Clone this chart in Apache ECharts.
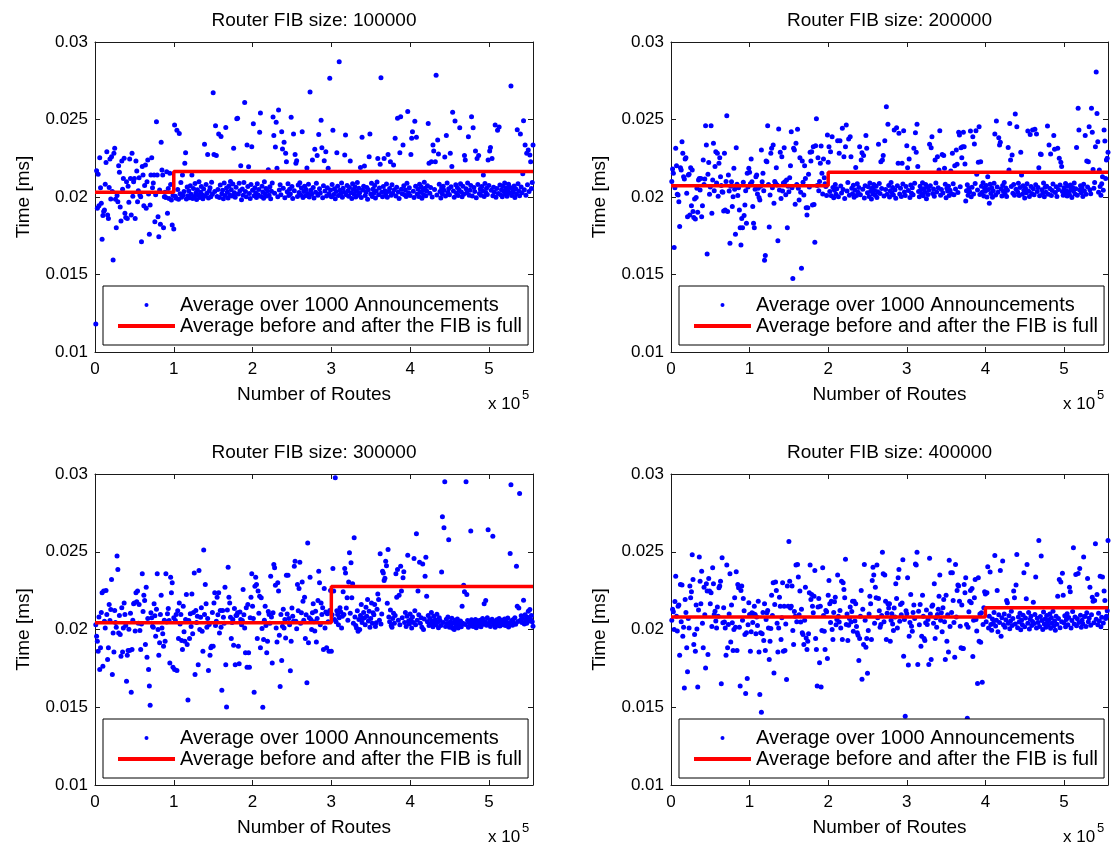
<!DOCTYPE html>
<html><head><meta charset="utf-8">
<script src="https://cdn.jsdelivr.net/npm/echarts@6/dist/echarts.min.js"></script>
<style>html,body{margin:0;padding:0;background:#fff}#chart{width:1113px;height:847px}</style>
</head><body><div id="chart"></div>
<script>
// ---- data ----
const panelTitles = ['Router FIB size: 100000','Router FIB size: 200000','Router FIB size: 300000','Router FIB size: 400000'];
const fibSizes = [100000, 200000, 300000, 400000];
const avgBefore = [0.0203, 0.02073, 0.02043, 0.0208];
const avgAfter = [0.02165, 0.02159, 0.02277, 0.0214];
const routesPerPoint = 1000;
const maxRoutes = 556000;
const yTickValues = [0.01, 0.015, 0.02, 0.025, 0.03];
const seriesNames = ['Average over 1000 Announcements', 'Average before and after the FIB is full'];
// times in units of 1e-5 ms, one value per 1000 routes
const timeP1 = [
1180,2170,1927,2146,1944,2254,2060,1959,1727,1880,1906,1916,2082,2222,2292,1884,1862,2062,2245,1987,
2260,2035,1594,2282,2314,1985,1802,2010,1970,2202,2159,1936,1845,2232,2050,2120,2250,1895,1867,2099,
1862,2070,1966,2245,2120,1884,2282,2005,2099,2120,1862,2232,2168,1970,2040,2125,2013,2002,1712,2196,
2142,1944,2075,2206,1927,2099,2239,2020,1759,1948,2142,2254,2060,2090,2142,1841,2015,2486,2142,1873,
1744,2045,1824,2353,2174,2142,1802,2002,2030,1996,2163,1895,2055,1991,2153,2080,1980,1820,2010,1794,
2465,2005,1992,2430,2048,1985,2409,2021,2093,1998,2142,2012,2035,2217,2286,1987,2064,2008,2041,1995,
2072,2018,2142,1990,2055,2003,2087,2026,1984,2046,2011,2099,1996,2030,2068,2014,1988,2052,2340,2007,
2081,2025,2275,1993,2039,2060,2002,2095,2017,2673,2275,2036,2460,2267,2004,2049,2406,1997,2078,2391,
2021,2043,1989,2090,2010,2449,2058,2032,1994,2071,2015,2100,2047,2006,2084,2314,2027,1999,2063,2505,
2508,2019,2088,2040,2202,1983,2052,2011,2093,2609,2035,2001,2335,2067,2195,2022,1990,2080,2325,2044,
2473,2008,2059,2027,1996,2085,2014,2048,2417,2542,2003,2070,2033,1992,2098,2019,2055,2006,2040,2176,
2012,2066,1988,2037,2090,2516,2396,2024,2323,2482,2185,2001,2561,2045,2079,2015,2421,2310,2056,2353,
1995,2282,2228,2034,2086,2010,2050,2020,2514,2068,1990,2406,2041,2275,2217,2234,2003,2077,2029,2092,
2013,2058,2421,1997,2036,2070,2008,2048,2187,2022,2083,2000,2677,2044,2017,2239,2062,1993,2308,2031,
2089,2267,2012,2404,2054,2026,2495,2318,1995,2072,2234,2039,2292,2007,2060,2186,2021,2766,2045,2002,
2081,2430,2016,2053,1988,2035,2286,2069,2010,2873,2043,2024,2091,1999,2057,2030,2271,2400,2014,2075,
2040,2005,2062,2232,2027,1991,2085,2049,2018,2066,2000,2037,2094,2012,2056,2028,2190,1996,2385,2045,
2070,2200,2009,2033,2061,1985,2047,2260,2406,2019,2088,2004,2052,2026,2074,1993,2038,2097,2249,2015,
2058,2211,2770,2030,2002,2068,2249,2041,2017,2084,1998,2275,2036,2055,2228,2011,2079,2024,2206,2047,
2379,2006,2063,2508,2032,1990,2286,2518,2050,2021,2336,2073,2014,2045,2003,2089,2551,2028,2060,2009,
2275,2379,2421,2037,1996,2488,2070,2385,2019,2052,2004,2083,2031,2066,1992,2042,2015,2095,2057,2008,
2039,2073,2475,2217,2024,2061,2228,2000,2336,2297,2048,2228,2785,2013,2368,2277,2082,2035,1994,2058,
2020,2070,2044,2258,2007,2396,2091,2029,2053,2015,2282,2066,2196,2546,2038,1998,2490,2079,2025,2062,
2010,2047,2447,2086,2033,2002,2069,2018,2267,2239,2054,2027,2090,2389,2012,2043,2075,2518,2006,2447,
2061,2035,2297,1995,2249,2080,2267,2023,2052,2011,2068,2040,2142,2003,2087,2029,2057,2016,2239,2074,
2297,2320,2044,2249,2008,2063,2031,2465,1999,2055,2430,2022,2452,2078,2014,2046,2002,2069,2037,2090,
2019,2058,2005,2041,2083,2026,2062,2716,2010,2048,2033,2071,1997,2054,2020,2434,2085,2039,2008,2406,
2065,2028,2150,2492,2047,2336,2012,2282,2079,2303,2036,2271,2228,2055,2094,2336
];
const timeP2 = [
2100,2181,2153,1675,2060,2314,2202,2017,2013,1970,1809,2189,2174,2357,2282,2131,2116,2245,2254,2024,
1873,2142,2146,1884,2189,1944,2174,1906,1867,1987,1858,1996,2056,1901,2110,2120,2045,2120,1873,1944,
2239,2080,2116,2460,2336,1633,2146,2222,2017,2065,2460,1895,2110,2346,2040,2196,2292,2090,2282,2005,
2217,2254,2131,2075,2034,2030,1910,2282,1916,2100,2525,1906,2142,2039,1701,2070,2099,1938,2002,2185,
2050,1759,2318,2082,2010,2060,1916,1802,1690,1862,1802,2095,1880,1948,2040,1830,2153,2065,2185,2159,
2085,2245,2099,1938,1830,1802,2050,2131,2142,2020,2056,1996,1981,2070,2303,2099,2153,2040,1592,1622,
2232,2228,2460,2080,1806,2013,2282,2314,2060,2336,1959,2100,2088,2189,2078,1718,2439,2045,2288,1991,
2260,2039,2090,2318,2099,2015,2110,1802,2070,2034,2125,2202,2421,2060,1475,2314,2303,1953,2346,2080,
2437,2056,1981,2254,2030,1540,2232,2095,2013,2202,2120,1931,1884,1931,2146,2065,2288,2232,2292,1948,
2325,1951,1708,2331,2505,2075,2254,2040,2100,2217,2329,2153,2020,2245,2125,2085,2067,2010,2400,2224,
2325,2035,2292,2008,2389,2061,1995,2044,2080,2017,2053,2363,2002,2282,2363,2071,2026,2443,2048,2260,
1990,2325,2465,2039,2093,2374,2012,2389,2260,2057,2021,2076,1998,2045,2191,2009,2085,2031,2062,2325,
2015,2239,2286,2050,2267,1993,2073,2396,2314,2028,2066,2004,2090,2037,1987,2058,2019,2081,2042,2011,
2069,1996,2034,2340,2087,2023,2228,2055,2239,2267,2006,2363,2049,2583,2018,2469,2075,2000,2040,2094,
2027,2061,2013,2432,2046,1992,2447,2072,2217,2411,2020,2056,2003,2217,2084,2428,2032,2010,2067,2331,
2189,2042,2245,1997,2078,2025,2059,2014,2314,2088,2415,2288,2469,2196,2036,2001,2070,2047,2019,2092,
2008,2054,2030,2080,1989,2064,2016,2045,2340,2073,2318,2389,2022,2052,2005,2239,2091,2033,2260,2060,
2174,2428,2012,2048,2275,2026,2267,2185,2083,1995,2057,2038,2070,2009,2044,2168,2021,2282,2086,2015,
2202,2051,2303,2211,2029,2417,2400,2066,2318,2254,2325,2417,2325,2213,1974,2040,2079,2011,2058,2034,
2426,2002,2063,2389,2020,2342,2087,2428,2146,2045,2224,2454,2016,2228,2069,2031,2092,2007,2055,2037,
2074,2000,2131,2049,1959,2082,2023,2060,1998,2041,2089,2406,2013,2490,2064,2030,2383,2336,2353,2052,
2006,2075,2035,2094,2019,2058,2003,2043,2320,2174,2475,2239,2067,2271,2025,2081,2011,2535,2050,2454,
2032,2088,2009,2061,2288,2142,2017,2072,2044,1994,2056,2027,2085,2426,2039,2004,2404,2068,2022,2432,
2053,2014,2437,2079,2406,2036,2061,2189,2008,2277,2275,2046,2025,2090,2001,2063,2031,2070,2458,2018,
2336,2055,2277,2010,2042,2084,2396,2308,2029,2066,2003,2314,2048,2250,2077,2224,2196,2035,2012,2059,
2024,2087,2041,2006,2069,2033,2015,2078,2050,1997,2062,2038,2091,2020,2054,2320,2011,2572,2432,2045,
2073,2028,2060,2004,2083,2039,2396,2017,2232,2065,2228,2454,2047,2021,2572,2417,2178,2056,2093,2325,
2806,2538,2357,2030,2174,2068,2012,2085,2130,2044,2432,2361,2120,2239,2250,2288
];
const timeP3 = [
2030,1957,1925,1860,2080,1743,1882,2110,2236,1764,2247,2053,2010,2251,2096,1807,1882,2161,2058,2128,
2321,1710,1978,1856,2122,2045,2015,2472,2386,1978,2090,1968,1828,2140,1856,2010,2171,2096,2025,1667,
1835,1865,2002,1865,2105,1597,1871,2060,2165,2171,1990,2236,2178,2247,2040,2161,1993,1871,2036,2358,
2115,2221,2187,1903,2272,1822,2070,1743,1637,1513,2107,2075,2021,2015,2165,2088,1957,2130,2358,2000,
1835,1914,2096,2221,2010,1972,1893,2060,1925,2358,2049,2101,2135,2058,1785,2336,2236,2300,1757,2075,
1743,2058,2096,1736,2120,1942,2171,2035,2096,1929,1871,2150,1985,1925,2065,2225,1903,1547,2058,1942,
2101,2020,2229,1972,2110,2364,1710,2122,2045,2086,1774,2379,2000,2079,2140,1989,1860,2512,2096,2289,
2165,2015,2070,1736,2032,1835,1882,1893,2110,1893,2171,2236,2025,2053,2208,2095,2236,1978,2122,2015,
1609,2122,2079,2040,2272,1774,1502,2125,2401,2208,2171,2079,1942,2045,2064,1899,2135,1774,2090,2092,
2107,1893,1779,2113,2064,2030,2058,2257,2095,2010,1850,2140,1757,2161,1850,1757,2075,2208,2358,2150,
2070,1597,2278,2336,2289,1942,2247,2105,2214,1882,2204,2006,1500,1936,2060,2150,2025,1850,1925,2115,
2096,2040,2343,2080,1785,2107,2418,2397,2285,2010,1920,2300,2247,1963,1633,2096,1800,2021,2130,2010,
2065,1946,2349,2100,2349,2071,2030,1734,1925,2139,2085,2053,2407,2439,2053,2005,2289,2120,2264,2433,
2040,2107,2306,2182,2060,2208,1942,2095,1657,2557,1914,2075,2336,2064,2000,2107,2165,2050,1990,2118,
1920,2070,2186,2375,2300,2030,2171,2096,2140,1871,2264,2010,2113,1882,2101,2050,1860,2122,2251,1860,
2095,2392,2247,2064,2976,2050,2120,2096,2030,2075,2140,2113,2010,2085,2242,2096,2392,2364,2139,2204,
2060,2306,2493,2105,2429,2204,2294,2040,2590,2080,2025,2010,2120,1989,2065,2000,2090,2161,2045,2071,
2110,2075,2030,2143,2085,2193,2055,2118,2015,2070,2171,2040,2107,2095,2161,2020,2043,2130,2229,2193,
2060,2487,2035,2100,2375,2364,2315,2330,2439,2410,2169,2514,2080,2050,2125,2025,2015,2070,2105,2040,
2090,2358,2208,2386,2060,2221,2030,2407,2247,2075,2332,2371,2045,2110,2020,2085,2478,2055,2035,2100,
2065,2010,2080,2045,2457,2120,2030,2615,2060,2247,2095,2433,2040,2075,2015,2422,2000,2068,2343,2465,
2214,2050,2090,2025,2070,2035,2110,2055,2018,2085,2040,2062,2030,2098,2047,2012,2075,2058,2026,2369,
2725,2045,2654,2950,2020,2066,2038,2080,2577,2015,2050,2030,2072,2008,2044,2000,2060,2022,2035,2068,
2010,2048,2026,2055,2018,2150,2040,2285,2242,2032,2950,2225,2058,2015,2045,2025,2633,2062,2036,2020,
2050,2030,2065,2012,2042,2056,2024,2038,2060,2018,2047,2070,2033,2165,2052,2186,2028,2075,2641,2040,
2058,2020,2046,2066,2600,2035,2052,2015,2040,2062,2027,2048,2070,2022,2055,2036,2060,2030,2045,2067,
2025,2050,2038,2074,2016,2043,2489,2931,2058,2028,2064,2040,2075,2033,2407,2150,2052,2139,2875,2060,
2088,2045,2070,2188,2035,2095,2060,2040,2078,2118,2055,2128,2065,2090,2050,2021
];
const timeP4 = [
2060,2130,2114,2000,2180,2343,2086,1990,2150,2157,1835,2290,2050,2286,1957,2015,1623,2193,2110,1882,
1728,2070,2010,2279,2204,2242,2481,2322,1903,1968,1860,2157,2004,1631,2125,2466,2311,2165,2375,2040,
1882,2272,2095,1753,2294,2247,1839,2328,2247,2165,2236,2020,2397,2294,2096,2118,2055,2010,2144,2085,
2268,2279,2311,1651,2461,2043,2140,2049,2010,1835,2414,1882,2032,2100,2358,1920,2157,2043,1865,2000,
2204,2015,2371,1865,2290,2268,2015,1636,2251,2279,2060,2200,2120,1968,1588,1979,1685,2030,2172,2096,
1860,1985,2107,2045,2101,2150,2096,1972,2080,2025,2182,1856,1582,1979,1468,1972,2110,1929,2165,1865,
2065,2107,2122,2010,1807,1925,2006,2221,2090,2300,1721,2161,2306,2251,2040,1856,2010,2208,2150,1936,
2075,2300,1860,2150,1865,2035,1678,2279,2150,2566,2311,2139,2150,2279,1993,1903,2115,2086,2414,2050,
2418,2337,2095,2247,2049,2130,1979,1968,1903,2060,2272,1946,1871,1925,1972,2236,2414,2193,2225,2150,
2107,2214,2380,1942,1871,1636,2144,2200,1786,2150,1631,1993,2397,2090,1989,1871,2122,2114,1813,2221,
2315,2165,2045,2182,2000,1936,2110,2178,2208,2030,2064,2350,2085,2049,2122,2010,2311,1936,2300,2257,
2204,2451,2032,2100,1929,2028,2070,2144,2049,2115,2182,1989,2182,2055,2165,2020,1979,1963,1800,1942,
2086,2251,1680,2130,1903,2418,2060,1886,1942,1719,1993,2100,2214,2165,1936,2315,2401,2350,2040,2272,
2204,2414,2075,2200,2120,2015,2032,2090,2496,2358,2050,2350,2182,1936,2105,2165,2139,2165,1925,2060,
2101,2035,1993,2139,2080,2294,2200,2010,2332,2386,2053,2161,2095,2171,2448,1828,2065,1442,2120,2101,
2332,1771,1957,2045,2225,2021,1989,2110,2157,2070,2422,2414,2496,1775,2118,2030,2161,1893,1957,2221,
2085,1942,1929,2043,2125,2032,2065,1775,2459,2100,1807,2150,2157,2040,2294,1942,2075,2015,2096,2130,
2214,2350,2060,2107,1985,2140,2193,2050,1807,2221,1925,2095,1856,2446,2020,2365,2110,2365,2187,2045,
1822,2418,2080,2251,2286,2279,2182,2021,1882,2157,1878,1878,2290,2236,2332,2032,1430,2015,2114,2182,
2251,2172,2264,1826,2060,2204,2322,2064,1990,1653,2332,1925,2100,1918,2107,1661,2032,2140,2242,2229,
2050,2236,2403,2010,2085,2369,2032,1995,2068,2040,2110,2476,2022,2060,2251,1985,2095,2045,2380,1957,
2075,2440,2030,2100,2015,2062,2187,2172,2040,2088,2005,2055,2118,2026,2070,2247,2204,2035,2286,2483,
2012,2080,2048,2105,1998,2060,2030,2092,2365,2018,2074,2197,2418,2040,2110,2003,2066,2085,2025,2052,
2176,2038,2096,2337,2010,2072,2045,2573,2020,2083,2472,2058,2000,2112,2035,2068,2015,2090,2047,2027,
2062,2100,2008,2075,2040,2118,2022,2055,1995,2085,2033,2214,2070,2322,2012,2306,2050,2362,2221,2043,
2088,2018,2065,2102,2030,2077,2272,2242,2010,2058,2115,2526,2036,2080,2354,2024,2069,2360,2045,2393,
2092,2014,2060,2037,2466,2083,2086,2020,2108,2328,2050,2073,2272,2028,2095,2208,2182,2044,2187,2551,
2066,2225,2030,2104,2055,2343,2018,2079,2337,2042,2247,2187,2070,2086,2120,2573
];
const panelTimes = [timeP1, timeP2, timeP3, timeP4];

// ---- layout ----
const FONT = 'Liberation Sans, Arial, Helvetica, sans-serif';
const FS = 19;      // titles, axis names
const FS_TICK = 17; // tick labels
const FS_LEG = 20;  // legend
const grids = [
  {left: 95, top: 42, width: 438, height: 310},
  {left: 671, top: 42, width: 437, height: 310},
  {left: 95, top: 474, width: 438, height: 311},
  {left: 671, top: 474, width: 437, height: 311}
];
const axisColor = '#1a1a1a';
const baseText = {color: '#000', fontFamily: FONT};
const textStyle = Object.assign({fontSize: FS}, baseText);
const tickText = Object.assign({fontSize: FS_TICK}, baseText);

const option = {
  animation: false,
  backgroundColor: '#fff',
  grid: grids.map(g => Object.assign({containLabel: false, outerBoundsMode: 'none', show: false}, g)),
  title: grids.map((g, k) => ({
    text: panelTitles[k], left: g.left + g.width / 2, top: g.top - 31, textAlign: 'center', padding: 0,
    textStyle: Object.assign({fontWeight: 'normal'}, textStyle)
  })),
  xAxis: [], yAxis: [], series: [], legend: [], graphic: []
};

grids.forEach((g, k) => {
  const common = {
    gridIndex: k, type: 'value', min: 0, max: maxRoutes, interval: 100000,
    axisLine: {show: true, onZero: false, lineStyle: {color: axisColor, width: 1}},
    axisTick: {show: true, inside: true, length: 5, lineStyle: {color: axisColor}},
    splitLine: {show: false}
  };
  option.xAxis.push(Object.assign({}, common, {
    position: 'bottom',
    axisLabel: Object.assign({formatter: v => String(Math.round(v / 1e5)), showMaxLabel: false, margin: 9}, tickText),
    name: 'Number of Routes', nameLocation: 'middle', nameGap: 33, nameTextStyle: textStyle
  }));
  option.xAxis.push(Object.assign({}, common, {position: 'top', axisLabel: {show: false}}));
  const ycommon = {
    gridIndex: k, type: 'value', min: yTickValues[0], max: yTickValues[yTickValues.length - 1],
    interval: yTickValues[1] - yTickValues[0],
    axisLine: {show: true, onZero: false, lineStyle: {color: axisColor, width: 1}},
    axisTick: {show: true, inside: true, length: 5, lineStyle: {color: axisColor}},
    splitLine: {show: false}
  };
  option.yAxis.push(Object.assign({}, ycommon, {
    position: 'left',
    axisLabel: Object.assign({formatter: v => String(+v.toFixed(3)), margin: 7}, tickText),
    name: 'Time [ms]', nameLocation: 'middle', nameGap: 62, nameTextStyle: textStyle
  }));
  option.yAxis.push(Object.assign({}, ycommon, {position: 'right', axisLabel: {show: false}}));

  const times = panelTimes[k];
  option.series.push({
    name: seriesNames[0], type: 'scatter', xAxisIndex: 2 * k, yAxisIndex: 2 * k,
    data: times.map((t, i) => [(i + 1) * routesPerPoint, t / 1e5]),
    symbol: 'circle', symbolSize: 5, itemStyle: {color: '#0000ff', opacity: 1}, z: 2
  });
  option.series.push({
    name: seriesNames[1], type: 'line', xAxisIndex: 2 * k, yAxisIndex: 2 * k, step: 'end',
    data: [[0, avgBefore[k]], [fibSizes[k], avgAfter[k]], [maxRoutes, avgAfter[k]]],
    symbol: 'none', lineStyle: {color: '#ff0000', width: 3.5}, itemStyle: {color: '#ff0000'}, z: 3
  });
  option.legend.push({
    orient: 'vertical', left: g.left + 8, top: g.top + g.height - 66,
    itemWidth: 57, itemHeight: 4, itemGap: 1, padding: [9, 6, 9, 15],
    backgroundColor: '#fff', borderColor: '#000', borderWidth: 1, borderRadius: 0,
    selectedMode: false,
    textStyle: Object.assign({lineHeight: 20, fontSize: FS_LEG}, baseText),
    data: [{name: seriesNames[0], icon: 'circle'}, {name: seriesNames[1], icon: 'rect'}]
  });
  option.graphic.push({
    type: 'text', left: g.left + g.width - 45, top: g.top + g.height + 44,
    style: {text: 'x 10', fill: '#000', font: FS_TICK + 'px ' + FONT}
  });
  option.graphic.push({
    type: 'text', left: g.left + g.width - 11, top: g.top + g.height + 37,
    style: {text: '5', fill: '#000', font: '13px ' + FONT}
  });
});

const chart = echarts.init(document.getElementById('chart'), null, {renderer: 'canvas'});
chart.setOption(option);
</script></body></html>
